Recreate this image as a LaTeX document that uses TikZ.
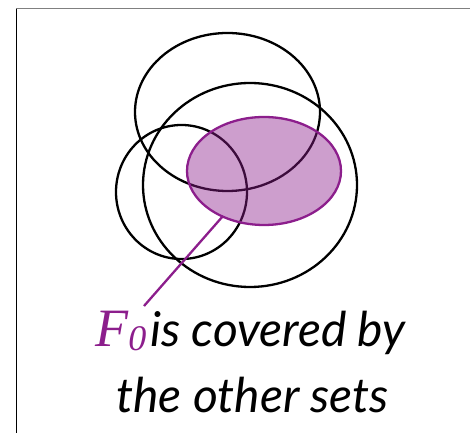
\documentclass[tikz,border=0pt]{standalone}
\usepackage{fontspec}
\setmainfont{Lato}
\newfontfamily\fserif{Liberation Serif}
\definecolor{setpurple}{RGB}{140,30,140}
\begin{document}
\begin{tikzpicture}[x=1pt,y=1pt,
  setline/.style={draw=black, line width=2.3pt},
  fset/.style={draw=setpurple, line width=2.3pt, fill=setpurple, fill opacity=0.43},
  pointer/.style={draw=setpurple, line width=2.3pt},
  lbl/.style={font=\fontsize{48}{56}\selectfont\itshape, anchor=base, inner sep=0pt}]
\useasboundingbox (0,0) rectangle (470,433);
\draw[gray, line width=1pt] (16,424) -- (470,424);
\draw[black, line width=1pt] (16,424) -- (16,0);
\draw[setline] (227.5,321) ellipse [x radius=92.5, y radius=79];
\draw[setline] (250,248) ellipse [x radius=107, y radius=102];
\draw[setline] (181.5,241) ellipse [x radius=65.5, y radius=67];
\draw[fset] (264,262) ellipse [x radius=77, y radius=54];
\coordinate (tip) at (223,217);
\coordinate (fend) at (144,127);
\draw[pointer] (tip) -- (fend);
\node[lbl] (line1) at (250.5,86) {\textcolor{setpurple}{\fserif\itshape\fontsize{54}{54}\selectfont F\raisebox{-4pt}{\fontsize{36}{36}\selectfont 0}}\kern4pt is covered by};
\node[lbl] (line2) at (252.5,21) {the other sets};
\end{tikzpicture}
\end{document}
